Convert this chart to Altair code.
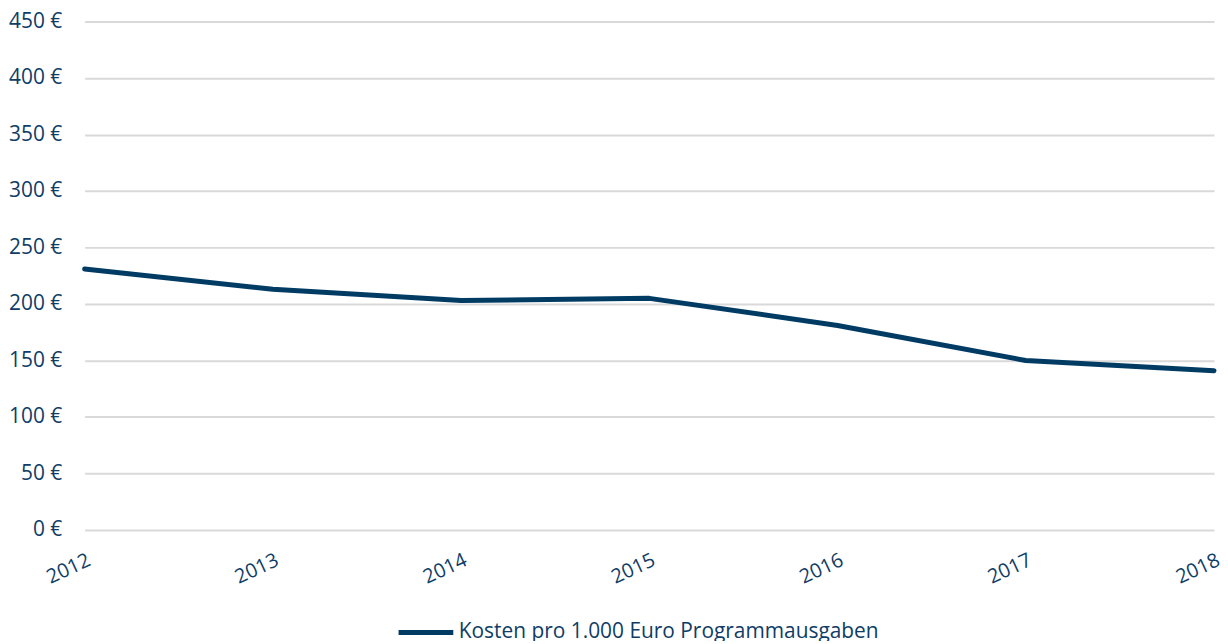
import altair as alt
import pandas as pd

years = ["2012", "2013", "2014", "2015", "2016", "2017", "2018"]
kosten = [231, 213, 203, 205, 181, 150, 141]
series_name = "Kosten pro 1.000 Euro Programmausgaben"
y_ticks = [0, 50, 100, 150, 200, 250, 300, 350, 400, 450]

df = pd.DataFrame({"Jahr": years, "Kosten": kosten, "Reihe": [series_name] * len(years)})

navy = "#003B64"
text_col = "#0F3D66"
font = "Open Sans"

chart = alt.Chart(df).mark_line(strokeWidth=5, strokeCap="round", strokeJoin="round").encode(
    x=alt.X("Jahr:O", scale=alt.Scale(type="point", padding=0),
            axis=alt.Axis(title=None, labelAngle=335, labelAlign="right", labelBaseline="top",
                          labelPadding=20, ticks=False, domain=False, grid=False,
                          labelFont=font, labelFontSize=20, labelColor=text_col)),
    y=alt.Y("Kosten:Q", scale=alt.Scale(domain=[0, 450], nice=False),
            axis=alt.Axis(title=None, values=y_ticks, labelExpr="datum.value + ' €'",
                          ticks=False, domain=False, labelPadding=23,
                          gridColor="#D9D9D9", gridWidth=2,
                          labelFont=font, labelFontSize=21, labelColor=text_col)),
    color=alt.Color("Reihe:N", scale=alt.Scale(range=[navy]),
                    legend=alt.Legend(title=None, orient="none", legendX=313, legendY=584,
                                      symbolType="stroke", symbolSize=3025, symbolStrokeWidth=5,
                                      labelOffset=3, padding=0, labelLimit=1000,
                                      labelFont=font, labelFontSize=21, labelColor=text_col)),
).properties(
    width=1135, height=511,
    autosize=alt.AutoSizeParams(type="none"),
    padding={"left": 77, "top": 12, "right": 6, "bottom": 110},
).configure_view(stroke=None)

chart.save("out.html", embed_options={"renderer": "svg", "actions": False})
